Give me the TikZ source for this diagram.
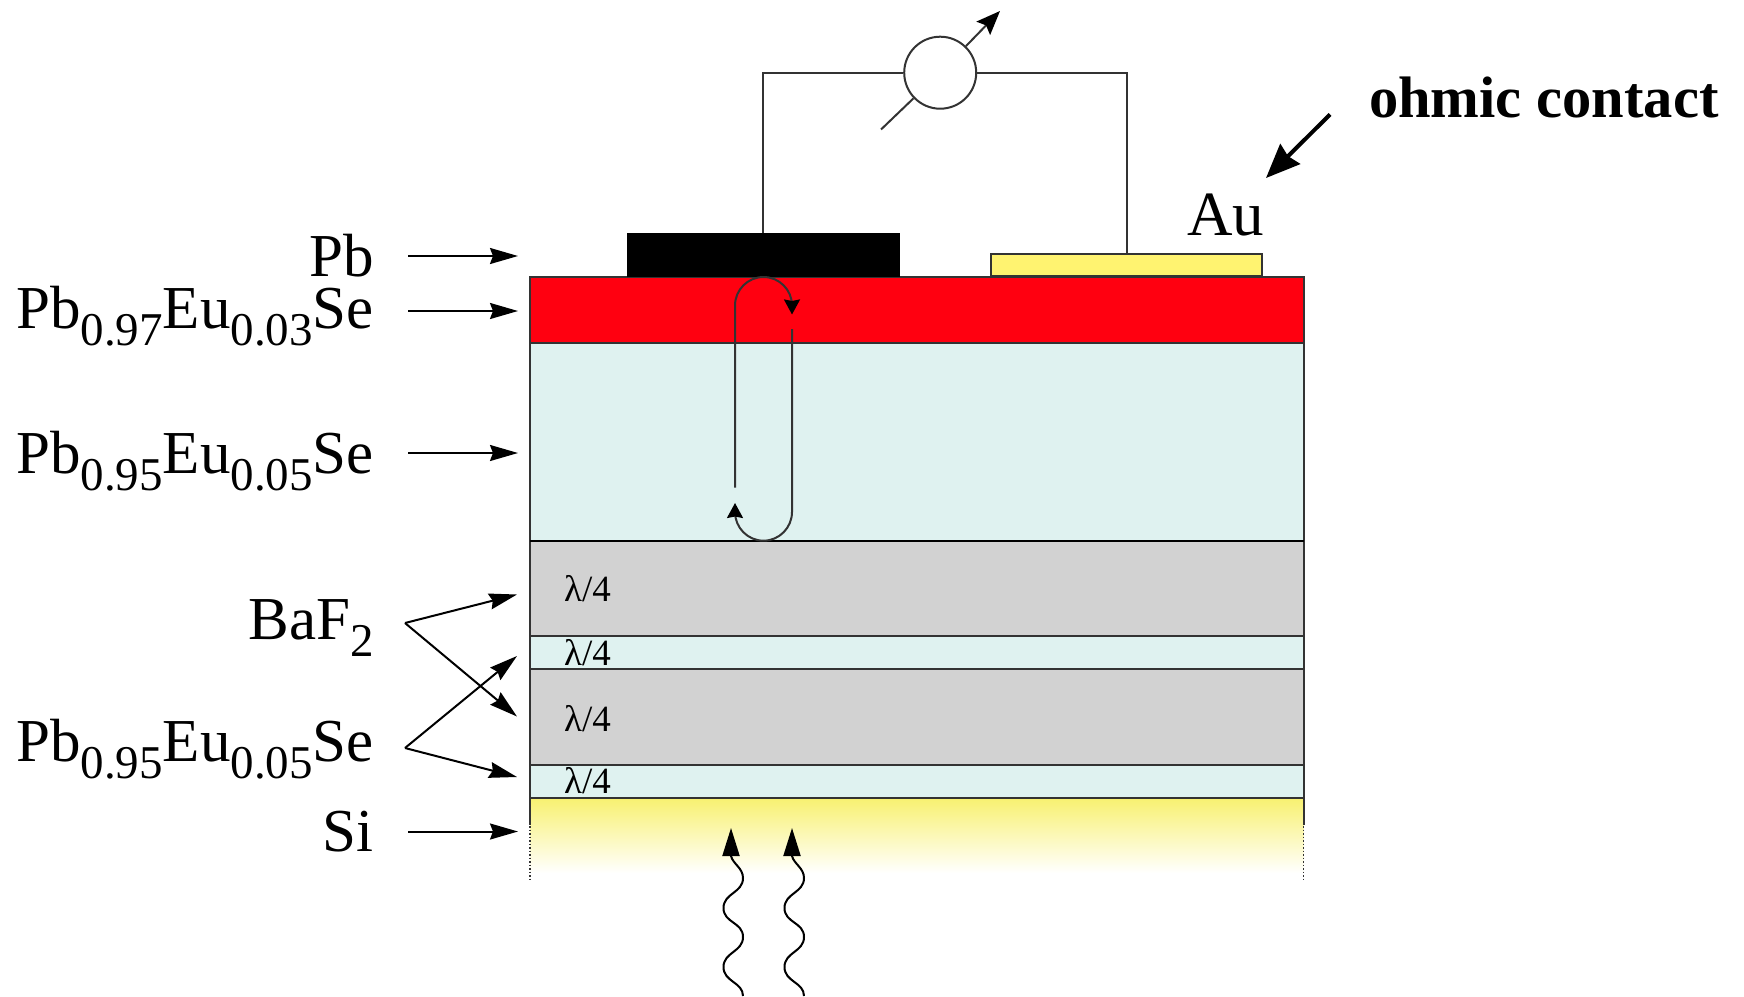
\documentclass[tikz,border=0pt]{standalone}
\usepackage{fontspec}
\setmainfont{Liberation Serif}
\usetikzlibrary{arrows.meta}
\definecolor{redlayer}{HTML}{FF0010}
\definecolor{cyanlayer}{HTML}{DFF2F0}
\definecolor{graylayer}{HTML}{D2D2D2}
\definecolor{aulayer}{HTML}{FFF370}
\definecolor{silayer}{HTML}{F8F170}
\definecolor{edge}{HTML}{333333}
\newcommand{\subnum}[1]{\raisebox{-17pt}{\fontsize{47}{47}\selectfont #1}}
\newcommand{\lamfour}{λ/4}
\tikzset{
  layer/.style={draw=edge,line width=2pt},
  label/.style={inner sep=0pt,anchor=base east,font=\fontsize{61}{61}\selectfont},
  lam/.style={inner sep=0pt,anchor=base west,font=\fontsize{37}{37}\selectfont},
  pointer/.style={line width=2pt,-{Stealth[length=28pt,width=16pt,inset=3pt]}},
  loopline/.style={line width=2pt,draw=edge,-{Stealth[length=15pt,width=16pt,inset=1.5pt,color=black,fill=black]}},
  wave/.style={line width=2pt,-{Stealth[length=28pt,width=17pt,inset=0pt]}}
}
\begin{document}
\begin{tikzpicture}[x=1pt,y=-1pt]
\useasboundingbox (0,0) rectangle (1744,996);
\clip (0,0) rectangle (1744,996);
% layers
\fill[top color=silayer,middle color=silayer!72!white,bottom color=white] (530,798) rectangle (1303.5,873);
\draw[edge,line width=2pt] (530,798) -- (530,825);
\draw[edge,line width=2pt] (1303.5,798) -- (1303.5,825);
\draw[edge,line width=1.5pt,dotted] (530,826) -- (530,880);
\draw[edge,line width=1.5pt,dotted] (1303.5,826) -- (1303.5,880);
\draw[layer,fill=cyanlayer] (530,765) rectangle (1303.5,798);
\draw[layer,fill=graylayer] (530,669) rectangle (1303.5,765);
\draw[layer,fill=cyanlayer] (530,636) rectangle (1303.5,669);
\draw[layer,fill=graylayer] (530,540.7) rectangle (1303.5,636);
\draw[layer,fill=cyanlayer] (530,343.3) rectangle (1303.5,540.7);
\draw[layer,fill=redlayer] (530,277) rectangle (1303.5,343.3);
\draw[black,line width=2pt] (530,540.7) -- (1303.5,540.7);
% contacts
\node[draw=black,fill=black,line width=1pt,inner sep=0pt,minimum width=272pt,minimum height=43pt,anchor=south west] (pb) at (626.5,277) {};
\node[layer,fill=aulayer,inner sep=0pt,minimum width=271pt,minimum height=22pt,anchor=south west] (au) at (990,277) {};
% meter
\node[draw=edge,line width=2pt,fill=white,circle,inner sep=0pt,minimum size=72pt] (meter) at (940.2,72.7) {};
\coordinate (mA) at (881,129.5);
\coordinate (mB) at (1000,11);
\draw[edge,line width=2pt] (mA) -- (meter);
\draw[edge,line width=2pt,-{Stealth[length=24pt,width=19pt,inset=4pt,color=black,fill=black]}] (meter) -- (mB);
\draw[edge,line width=2pt] (pb.north) |- (meter.west);
\draw[edge,line width=2pt] (au.north) |- (meter.east);
% reflection loop
\draw[loopline] (735,487.7) -- (735,305.5) .. controls (735,289.8) and (747.8,277) .. (763.5,277) .. controls (779.2,277) and (792,289.8) .. (792,305.5) -- (792,314.5);
\draw[loopline] (792,329) -- (792,512) .. controls (792,527.7) and (779.2,540.7) .. (763.5,540.7) .. controls (747.8,540.7) and (735,527.7) .. (735,512) -- (735,503);
% lambda labels
\node[lam] (l1) at (564,601.7) {\lamfour};
\node[lam] (l2) at (564,665) {\lamfour};
\node[lam] (l3) at (564,731.7) {\lamfour};
\node[lam] (l4) at (564,793.5) {\lamfour};
% left labels
\node[label] (tPb) at (374,276) {Pb};
\node[label] (tRed) at (374,328) {Pb\subnum{0.97}Eu\subnum{0.03}Se};
\node[label] (tCyan) at (374,473) {Pb\subnum{0.95}Eu\subnum{0.05}Se};
\node[label] (tBa) at (374,639) {BaF\subnum{2}};
\node[label] (tCyan2) at (374,761.7) {Pb\subnum{0.95}Eu\subnum{0.05}Se};
\node[label] (tSi) at (374,851) {Si};
\node[label,anchor=base west,font=\fontsize{63}{63}\selectfont] (tAu) at (1187,235) {Au};
\node[inner sep=0pt,anchor=base west,font=\bfseries\fontsize{58.5}{58.5}\selectfont] (tOhm) at (1369,117) {ohmic contact};
% pointers
\foreach \n/\y in {a/256,b/311,c/453,d/831.5}{
  \coordinate (s\n) at (408,\y);
  \coordinate (e\n) at (518,\y);
  \draw[pointer] (s\n) -- (e\n);
}
\coordinate (forkB) at (405,623);
\coordinate (forkP) at (405,748);
\coordinate (b1) at (517,594.5);
\coordinate (b2) at (517,716.5);
\coordinate (p1) at (517,656);
\coordinate (p2) at (517,777);
\draw[pointer] (forkB) -- (b1);
\draw[pointer] (forkB) -- (b2);
\draw[pointer] (forkP) -- (p1);
\draw[pointer] (forkP) -- (p2);
% ohmic arrow
\coordinate (ohmS) at (1330,114.5);
\coordinate (ohmE) at (1266,178);
\draw[line width=4pt,-{Stealth[length=34pt,width=28pt,inset=3pt]}] (ohmS) -- (ohmE);
% wavy light
\foreach \x in {0,61}{
  \draw[wave] (743+\x,996) .. controls (743+\x,982) and (723.5+\x,982) .. (723.5+\x,967)
   .. controls (723.5+\x,952) and (743+\x,952) .. (743+\x,937)
   .. controls (743+\x,922) and (723.5+\x,923) .. (723.5+\x,908)
   .. controls (723.5+\x,893) and (743+\x,893) .. (743+\x,878)
   .. controls (743+\x,868) and (733+\x,864) .. (731+\x,856) -- (731+\x,828);
}
\end{tikzpicture}
\end{document}
